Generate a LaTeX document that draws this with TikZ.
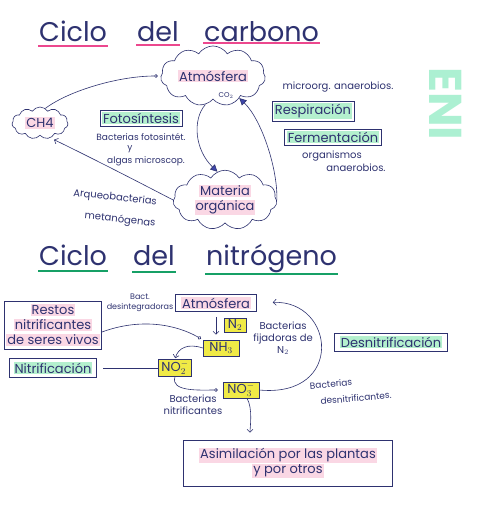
\documentclass[tikz,border=0pt]{standalone}
\usepackage{fontspec}
\setmainfont{Poppins}
\usetikzlibrary{shapes.symbols,arrows.meta}

\definecolor{ink}{RGB}{46,50,112}
\definecolor{tipblue}{RGB}{62,70,170}
\definecolor{pinkhl}{RGB}{250,215,228}
\definecolor{greenhl}{RGB}{180,240,206}
\definecolor{yellowhl}{RGB}{240,234,70}
\definecolor{pinkline}{RGB}{236,72,142}
\definecolor{greenline}{RGB}{22,160,102}
\definecolor{tabgreen}{RGB}{172,240,210}

\setlength{\fboxsep}{1pt}
\newcommand{\hlpink}[1]{\colorbox{pinkhl}{#1}}
\newcommand{\hlgreen}[1]{\colorbox{greenhl}{#1}}

\tikzset{
  every node/.style={text=ink, font=\fontsize{13}{15}\selectfont},
  titleword/.style={font=\fontsize{27}{27}\selectfont, anchor=base west, inner sep=1pt},
  cloudnode/.style={cloud, cloud puffs=11, cloud puff arc=115, draw=ink, semithick, aspect=2.2, inner sep=1pt},
  labelbox/.style={draw=ink, semithick, inner sep=2pt},
  chembox/.style={draw=ink, semithick, fill=yellowhl, inner sep=1pt, minimum height=16, font=\fontsize{13}{14}\selectfont},
  note/.style={font=\fontsize{10}{12}\selectfont, align=center, inner sep=1pt},
  smallnote/.style={note, font=\fontsize{8}{10}\selectfont},
  inkline/.style={draw=ink, semithick},
  circtip/.style={-{Circle[open,length=3.5pt]}},
  barbtip/.style={-{Straight Barb[length=3pt,width=6pt]}},
  filltip/.style={-{Triangle[length=7pt,width=7pt,fill=tipblue]}},
}

\begin{document}
\begin{tikzpicture}[x=1pt,y=-1pt]
\useasboundingbox[fill=white] (0,0) rectangle (482,523);

% Side tab
\node[rotate=-90, text=tabgreen, font=\bfseries\fontsize{46}{46}\selectfont] (tab) at (446,104) {ENI};

% Title: carbon cycle
\node[titleword] (c1) at (38,41) {Ciclo};
\node[titleword] (c2) at (136,41) {del};
\node[titleword] (c3) at (203,41) {carbono};
\draw[pinkline, line width=2.5pt] ([yshift=-5]c1.base west) -- ([yshift=-5]c1.base east);
\draw[pinkline, line width=2.5pt] ([yshift=-4]c2.base west) -- ([yshift=-4]c2.base east);
\draw[pinkline, line width=2.5pt] ([yshift=-2]c3.base west) -- ([yshift=-2]c3.base east);

% Clouds
\node[cloudnode, minimum width=98, minimum height=42] (atmc) at (213,76) {\hlpink{Atmósfera}};
\node[font=\fontsize{7}{8}\selectfont] (co2) at (226,96) {CO$_2$};
\node[cloudnode, minimum width=56, minimum height=32] (ch4) at (40,123) {\hlpink{CH4}};
\node[cloudnode, minimum width=82, minimum height=46, align=center] (mat) at (225,200) {\hlpink{Materia}\\\hlpink{orgánica}};

% Processes
\node[labelbox] (foto) at (141,118) {\hlgreen{Fotosíntesis}};
\node[note, font=\fontsize{9}{11}\selectfont] (bactfoto) at (141,137) {Bacterias fotosintét.};
\node[note, font=\fontsize{9}{11}\selectfont] (yand) at (130,149) {y};
\node[note, font=\fontsize{9}{11}\selectfont] (algas) at (146,161) {algas microscop.};
\node[note, rotate=-6] (arqueoa) at (115,198) {Arqueobacterias};
\node[note, rotate=-6] (arqueob) at (120,220) {metanógenas};
\node[note] (micro) at (338,87) {microorg. anaerobios.};
\node[labelbox] (resp) at (313,111) {\hlgreen{Respiración}};
\node[labelbox] (ferm) at (333,137) {\hlgreen{Fermentación}};
\node[note] (orga) at (332,156) {organismos};
\node[note] (orgb) at (356,168) {anaerobios.};

% Carbon arrows
\draw[inkline, circtip, shorten >=3pt] (ch4.70) .. controls (70,90) and (120,76) .. (atmc.west);
\draw[inkline, filltip] (atmc.255) .. controls (192,120) and (195,150) .. (mat.105);
\draw[inkline, filltip] (mat.east) .. controls (278,170) and (262,120) .. (atmc.-40);
\draw[inkline, barbtip, shorten >=4pt] (mat.west) .. controls (150,188) and (100,162) .. (ch4.-55);

% Title: nitrogen cycle
\node[titleword] (n1) at (38,265) {Ciclo};
\node[titleword] (n2) at (132,265) {del};
\node[titleword] (n3) at (205,265) {nitrógeno};
\draw[greenline, line width=2.5pt] ([yshift=-6]n1.base west) -- ([yshift=-6]n1.base east);
\draw[greenline, line width=2.5pt] ([yshift=-7]n2.base west) -- ([yshift=-7]n2.base east);
\draw[greenline, line width=2.5pt] ([yshift=-9]n3.base west) -- ([yshift=-9]n3.base east);

% Nitrogen boxes
\node[labelbox, minimum width=92, minimum height=48, align=center] (restos) at (53,325) {\hlpink{Restos}\\\hlpink{nitrificantes}\\\hlpink{de seres vivos}};
\node[labelbox, minimum width=87, minimum height=19] (nitri) at (53,368) {\hlgreen{Nitrificación}};
\node[labelbox, minimum width=81, minimum height=17] (atmb) at (216,303) {\hlpink{Atmósfera}};
\node[chembox, minimum width=22, minimum height=14] (n2b) at (235,325) {N$_2$};
\node[chembox, minimum width=36] (nh3) at (221,348) {NH$_3$};
\node[chembox, minimum width=33, minimum height=17] (no2) at (175,368) {NO$_2^-$};
\node[chembox, minimum width=36] (no3) at (241,390) {NO$_3^-$};
\node[labelbox, minimum width=113, minimum height=18] (desni) at (391,342) {\hlgreen{Desnitrificación}};
\node[labelbox, minimum width=209, minimum height=46, align=center] (asim) at (288,463) {\hlpink{Asimilación por las plantas}\\\hlpink{y por otros}};

% Nitrogen notes
\node[smallnote] (bactdes) at (140,303) {Bact.\\desintegradoras};
\node[note] (bactfij) at (283,338) {Bacterias\\fijadoras de\\N$_2$};
\node[note, font=\fontsize{9}{11}\selectfont, rotate=5] (bactdesa) at (331,384) {Bacterias};
\node[note, font=\fontsize{9}{11}\selectfont, rotate=5] (bactdesb) at (356,398) {desnitrificantes.};
\node[note] (bactnitri) at (193,405) {Bacterias\\nitrificantes};

% Nitrogen arrows
\draw[inkline, circtip, shorten >=2pt] ([yshift=-7]restos.east) .. controls (140,318) and (175,324) .. (nh3.north west);
\draw[inkline, barbtip, shorten <=5pt, shorten >=5pt] (atmb.south) -- (atmb.south |- nh3.north);
\draw[inkline, barbtip, shorten >=1pt] (nh3.west) .. controls (188,343) and (178,348) .. (no2.north);
\draw[inkline, shorten >=6pt] (no2.west) -- (nitri.east);
\draw[inkline, circtip, shorten >=5pt] (no2.south) .. controls (170,392) and (200,390) .. (no3.west);
\draw[inkline, barbtip, shorten >=16pt] (no3.east) .. controls (345,398) and (335,300) .. (atmb.east);
\draw[inkline, barbtip, shorten >=7pt] ([xshift=6]no3.south) .. controls +(6,10) and +(0,-12) .. ([xshift=9]no3.south |- asim.north);

\end{tikzpicture}
\end{document}
